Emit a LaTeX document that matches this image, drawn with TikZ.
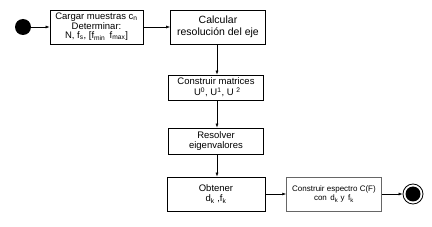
\documentclass[tikz,border=0pt]{standalone}
\usepackage{fontspec}
\setmainfont{Liberation Sans}
\usetikzlibrary{arrows.meta, positioning}

\begin{document}
\begin{tikzpicture}[x=1pt, y=-1pt,
    stepbox/.style={draw, line width=0.8pt, minimum width=95pt, align=center, inner sep=1pt, font=\fontsize{9.5}{10.5}\selectfont},
    flow/.style={-{Latex[length=4pt, width=3pt]}, line width=0.6pt}]

    % frame of the picture, 432 x 227
    \useasboundingbox (0,0) rectangle (432,227);

    % === start and first row ===
    \node[circle, fill=black, minimum size=16pt, inner sep=0pt] (start) at (23,27) {};
    \node[stepbox, minimum width=93pt, minimum height=34pt] (cargar) at (96.5,27)
        {Cargar muestras c\textsubscript{n}\\[-1pt] Determinar:\\[-1pt] N, f\textsubscript{s}, [f\textsubscript{min}\, f\textsubscript{max}]};
    \node[stepbox, minimum height=34pt, font=\fontsize{10.5}{12}\selectfont] (calcular) at (218,27) {Calcular\\ resoluci\'on del eje};

    % === column going down ===
    \node[stepbox, minimum height=25pt, font=\fontsize{9.5}{11}\selectfont] (matrices) at (216,87.5)
        {Construir matrices\\ \ U\textsuperscript{0}, U\textsuperscript{1}, U \textsuperscript{2}};
    \node[stepbox, minimum height=26pt] (eigen) at (216,141) {Resolver\\ eigenvalores};
    \node[stepbox, minimum width=98pt, minimum height=34pt] (obtener) at (216,194)
        {Obtener\\ d\textsubscript{k} ,f\textsubscript{k}};

    % === last row and end ===
    \node[stepbox, draw=black!60, line width=0.5pt, minimum height=34pt, font=\fontsize{8}{9.5}\selectfont] (espectro) at (334,194)
        {Construir espectro C(F)\\ con \,d\textsubscript{k} y \,f\textsubscript{k}};
    \node[circle, draw, line width=0.8pt, minimum size=20pt, inner sep=0pt] (fin) at (413,194) {};
    \node[circle, fill=black, minimum size=15pt, inner sep=0pt] (finin) at (fin.center) {};

    % connectors
    \draw[flow] (start) -- (cargar);
    \draw[flow] (cargar) -- (calcular);
    \draw[flow] (calcular.south -| 217,0) -- (matrices.north -| 217,0);
    \draw[flow] (matrices.south -| 217,0) -- (eigen.north -| 217,0);
    \draw[flow] (eigen.south -| 217,0) -- (obtener.north -| 217,0);
    \draw[flow] (obtener) -- (espectro);
    \draw[flow] (espectro) -- (fin);

\end{tikzpicture}
\end{document}
